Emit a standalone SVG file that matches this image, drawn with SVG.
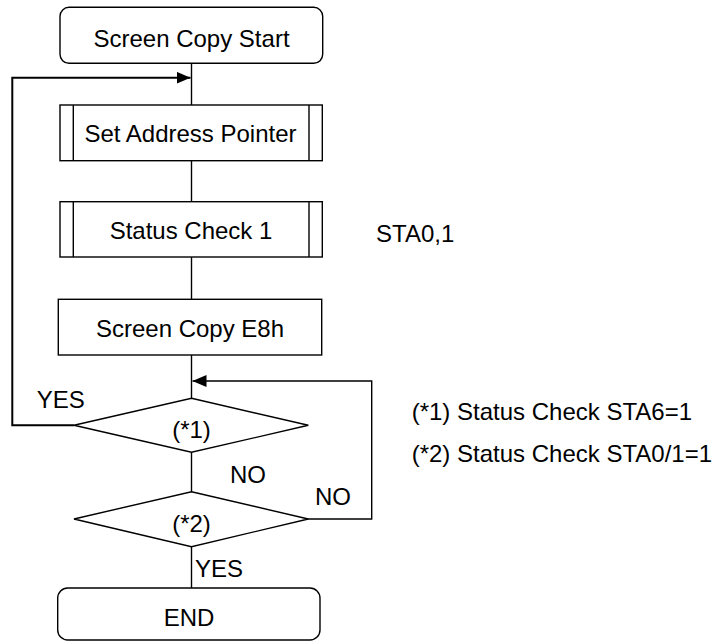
<svg xmlns="http://www.w3.org/2000/svg" width="723" height="642" viewBox="0 0 723 642">
<defs>
<style>
.box{fill:#fff;stroke:#000;stroke-width:1.4}
.ln{fill:none;stroke:#000;stroke-width:1.4}
.ar{fill:none;stroke:#000;stroke-width:2}
text{font-family:"Liberation Sans",Arial,sans-serif;font-size:24px;fill:#000}
.c{text-anchor:middle}
</style>
<marker id="ah2" viewBox="0 0 14 12" refX="14" refY="6" markerWidth="14" markerHeight="12" markerUnits="userSpaceOnUse" orient="auto">
<path d="M0,0 L14,6 L0,12 z" fill="#000"/>
</marker>
</defs>
<g id="connectors">
<line class="ln" x1="191.5" y1="63.3" x2="191.5" y2="105"/>
<line class="ln" x1="191.5" y1="160.7" x2="191.5" y2="201.7"/>
<line class="ln" x1="191.5" y1="257" x2="191.5" y2="299.3"/>
<line class="ln" x1="191.5" y1="355" x2="191.5" y2="398.3"/>
<line class="ln" x1="191.5" y1="452.3" x2="191.5" y2="491.7"/>
<line class="ln" x1="191.5" y1="546.7" x2="191.5" y2="588"/>
<polyline class="ar" points="74,425.3 12.3,425.3 12.3,77.7 190.5,77.7" marker-end="url(#ah2)"/>
<polyline class="ln" points="308,519 371.7,519 371.7,381 192.5,381" marker-end="url(#ah2)"/>
</g>
<g id="start">
<rect class="box" x="60" y="7.3" width="262.7" height="56" rx="9"/>
<text class="c" x="191.5" y="46.5">Screen Copy Start</text>
</g>
<g id="set-address-pointer">
<rect class="box" x="60" y="105" width="262.3" height="55.7"/>
<line class="ln" x1="73.3" y1="105" x2="73.3" y2="160.7"/>
<line class="ln" x1="309" y1="105" x2="309" y2="160.7"/>
<text class="c" x="190.5" y="141.7">Set Address Pointer</text>
</g>
<g id="status-check-1">
<rect class="box" x="60" y="201.7" width="262.3" height="55.3"/>
<line class="ln" x1="73.3" y1="201.7" x2="73.3" y2="257"/>
<line class="ln" x1="309" y1="201.7" x2="309" y2="257"/>
<text class="c" x="191" y="239.3">Status Check 1</text>
</g>
<g id="sta01-note">
<text x="376" y="241.7">STA0,1</text>
</g>
<g id="screen-copy-e8h">
<rect class="box" x="58.3" y="299.3" width="263.4" height="55.7"/>
<text class="c" x="190" y="336.7">Screen Copy E8h</text>
</g>
<g id="decision-1">
<polygon class="box" points="191.5,398.3 308.3,425.3 191.5,452.3 74,425.3"/>
<text class="c" x="191.5" y="438">(*1)</text>
</g>
<g id="decision-2">
<polygon class="box" points="191.5,491.7 308.3,519 191.5,546.7 74,519"/>
<text class="c" x="191.5" y="531.7">(*2)</text>
</g>
<g id="end">
<rect class="box" x="57.7" y="588" width="262.3" height="52" rx="10"/>
<text class="c" x="189" y="625.7">END</text>
</g>
<g id="labels">
<text x="36.7" y="408">YES</text>
<text x="230" y="483">NO</text>
<text x="315" y="505">NO</text>
<text x="195" y="576.7">YES</text>
<text x="411.7" y="420">(*1) Status Check STA6=1</text>
<text x="411.7" y="462">(*2) Status Check STA0/1=1</text>
</g>
</svg>
